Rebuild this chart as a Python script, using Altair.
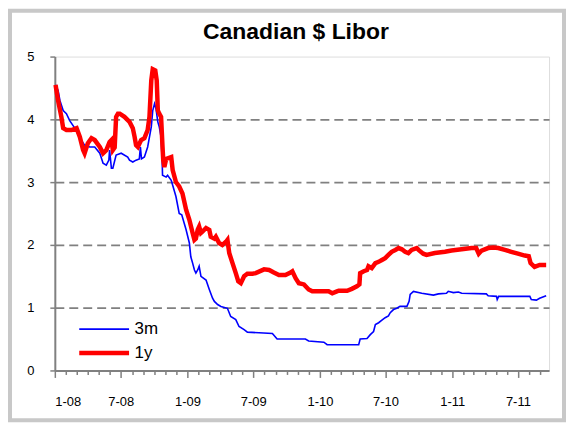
import altair as alt
import pandas as pd

series_names = ["3m", "1y"]
series_colors = ["#0000FF", "#FF0000"]
series_widths = [1.6, 4.5]

m3_dates = [
    "2008-01-03", "2008-01-10", "2008-01-15", "2008-01-24", "2008-02-02", "2008-02-11",
    "2008-02-25", "2008-03-14", "2008-03-23", "2008-04-06", "2008-04-20", "2008-05-04",
    "2008-05-13", "2008-05-22", "2008-05-29", "2008-05-31", "2008-06-05", "2008-06-09",
    "2008-06-18", "2008-07-02", "2008-07-20", "2008-07-25", "2008-08-03", "2008-08-12",
    "2008-08-21", "2008-08-24", "2008-08-27", "2008-09-04", "2008-09-13", "2008-09-23",
    "2008-09-27", "2008-10-02", "2008-10-06", "2008-10-11", "2008-10-15", "2008-10-20",
    "2008-10-23", "2008-10-24", "2008-11-03", "2008-11-07", "2008-11-17", "2008-11-21",
    "2008-11-30", "2008-12-09", "2008-12-16", "2008-12-23", "2008-12-28", "2009-01-06",
    "2009-01-10", "2009-01-15", "2009-01-20", "2009-01-24", "2009-01-29", "2009-02-02",
    "2009-02-07", "2009-02-21", "2009-03-02", "2009-03-11", "2009-03-16", "2009-03-25",
    "2009-04-03", "2009-04-21", "2009-04-30", "2009-05-14", "2009-05-23", "2009-06-06",
    "2009-06-15", "2009-07-17", "2009-08-23", "2009-09-05", "2009-11-22", "2009-12-01",
    "2010-01-12", "2010-01-21", "2010-04-18", "2010-04-22", "2010-05-11", "2010-05-20",
    "2010-05-29", "2010-06-03", "2010-06-12", "2010-06-21", "2010-06-30", "2010-07-09",
    "2010-07-14", "2010-07-23", "2010-08-01", "2010-08-10", "2010-08-29", "2010-09-04",
    "2010-09-07", "2010-09-16", "2010-10-09", "2010-11-10", "2010-11-24", "2010-12-16",
    "2010-12-21", "2011-01-04", "2011-01-18", "2011-01-27", "2011-04-05", "2011-04-10",
    "2011-05-03", "2011-05-05", "2011-05-09", "2011-08-03", "2011-08-07", "2011-08-21",
    "2011-08-30", "2011-09-17",
]
m3_values = [
    4.55, 4.46, 4.30, 4.14, 4.09, 3.98,
    3.86, 3.67, 3.59, 3.56, 3.56, 3.46,
    3.30, 3.27, 3.35, 3.51, 3.22, 3.22,
    3.43, 3.46, 3.40, 3.35, 3.32, 3.35,
    3.37, 3.56, 3.37, 3.40, 3.56, 3.88,
    4.14, 4.25, 4.17, 3.96, 3.88, 3.72,
    3.35, 3.11, 3.08, 3.11, 3.03, 2.95,
    2.77, 2.50, 2.48, 2.34, 2.24, 2.03,
    1.81, 1.71, 1.60, 1.55, 1.60, 1.66,
    1.50, 1.44, 1.29, 1.15, 1.10, 1.05,
    1.02, 0.99, 0.86, 0.81, 0.70, 0.65,
    0.61, 0.60, 0.59, 0.50, 0.50, 0.47,
    0.45, 0.41, 0.41, 0.50, 0.51, 0.57,
    0.62, 0.73, 0.76, 0.80, 0.84, 0.87,
    0.92, 0.97, 0.99, 1.02, 1.02, 1.10,
    1.21, 1.26, 1.23, 1.20, 1.22, 1.23,
    1.26, 1.24, 1.25, 1.23, 1.22, 1.19,
    1.18, 1.13, 1.18, 1.18, 1.13, 1.12,
    1.15, 1.19,
]

y1_dates = [
    "2008-01-03", "2008-01-10", "2008-01-19", "2008-01-24", "2008-02-02", "2008-02-16",
    "2008-03-01", "2008-03-10", "2008-03-19", "2008-03-23", "2008-04-01", "2008-04-11",
    "2008-04-20", "2008-05-04", "2008-05-13", "2008-05-22", "2008-05-31", "2008-06-05",
    "2008-06-09", "2008-06-14", "2008-06-18", "2008-06-23", "2008-06-28", "2008-07-11",
    "2008-07-25", "2008-08-03", "2008-08-08", "2008-08-12", "2008-08-17", "2008-08-26",
    "2008-09-04", "2008-09-13", "2008-09-18", "2008-09-23", "2008-09-27", "2008-10-04",
    "2008-10-08", "2008-10-11", "2008-10-15", "2008-10-20", "2008-10-24", "2008-10-26",
    "2008-10-29", "2008-11-03", "2008-11-17", "2008-11-21", "2008-11-30", "2008-12-09",
    "2008-12-18", "2008-12-28", "2009-01-06", "2009-01-15", "2009-01-20", "2009-01-24",
    "2009-01-29", "2009-02-02", "2009-02-07", "2009-02-11", "2009-02-21", "2009-03-02",
    "2009-03-06", "2009-03-16", "2009-03-20", "2009-03-29", "2009-04-07", "2009-04-17",
    "2009-04-21", "2009-04-26", "2009-05-05", "2009-05-14", "2009-05-21", "2009-05-28",
    "2009-06-06", "2009-06-15", "2009-06-29", "2009-07-08", "2009-07-31", "2009-08-14",
    "2009-08-27", "2009-09-10", "2009-09-28", "2009-10-12", "2009-10-17", "2009-10-26",
    "2009-11-04", "2009-11-18", "2009-12-01", "2009-12-11", "2010-01-25", "2010-02-04",
    "2010-02-17", "2010-02-22", "2010-03-17", "2010-03-30", "2010-04-13", "2010-04-20",
    "2010-04-22", "2010-05-02", "2010-05-11", "2010-05-15", "2010-05-24", "2010-06-03",
    "2010-06-12", "2010-06-21", "2010-06-30", "2010-07-09", "2010-07-18", "2010-07-28",
    "2010-08-06", "2010-08-15", "2010-08-24", "2010-09-02", "2010-09-11", "2010-09-25",
    "2010-09-30", "2010-10-13", "2010-10-22", "2010-11-14", "2010-12-12", "2010-12-30",
    "2011-01-27", "2011-02-23", "2011-03-08", "2011-03-15", "2011-03-23", "2011-04-10",
    "2011-04-24", "2011-05-08", "2011-05-26", "2011-06-13", "2011-07-01", "2011-07-20",
    "2011-07-31", "2011-08-05", "2011-08-16", "2011-08-30", "2011-09-17",
]
y1_values = [
    4.55, 4.30, 4.04, 3.86, 3.83, 3.83,
    3.86, 3.72, 3.51, 3.46, 3.62, 3.70,
    3.67, 3.56, 3.46, 3.51, 3.64, 3.67,
    3.51, 3.55, 4.04, 4.09, 4.09, 4.04,
    3.96, 3.86, 3.72, 3.59, 3.56, 3.67,
    3.70, 3.83, 4.04, 4.62, 4.80, 4.78,
    4.62, 4.14, 4.09, 4.04, 3.56, 3.35,
    3.24, 3.37, 3.40, 3.19, 3.00, 2.93,
    2.82, 2.56, 2.40, 2.19, 2.08, 2.10,
    2.24, 2.29, 2.19, 2.21, 2.27, 2.24,
    2.13, 2.10, 2.13, 2.03, 2.00, 2.05,
    2.08, 1.87, 1.71, 1.55, 1.42, 1.39,
    1.50, 1.54, 1.54, 1.55, 1.61, 1.60,
    1.56, 1.52, 1.52, 1.56, 1.58, 1.47,
    1.39, 1.37, 1.29, 1.26, 1.26, 1.23,
    1.26, 1.27, 1.27, 1.30, 1.34, 1.37,
    1.55, 1.58, 1.60, 1.66, 1.63, 1.71,
    1.73, 1.76, 1.79, 1.84, 1.89, 1.92,
    1.95, 1.93, 1.89, 1.87, 1.92, 1.95,
    1.92, 1.86, 1.84, 1.87, 1.89, 1.91,
    1.93, 1.95, 1.95, 1.86, 1.91, 1.95,
    1.96, 1.95, 1.92, 1.89, 1.86, 1.83,
    1.82, 1.71, 1.65, 1.68, 1.68,
]

y_ticks = [0, 1, 2, 3, 4, 5]
x_tick_years = [2008, 2009, 2010, 2011]
x_tick_months = list(range(1, 13))
x_last_tick = (2011, 9)

FONT = "Liberation Sans"
GRID_GRAY = "#808080"

df = pd.concat([
    pd.DataFrame({"date": m3_dates, "value": m3_values, "series": series_names[0]}),
    pd.DataFrame({"date": y1_dates, "value": y1_values, "series": series_names[1]}),
], ignore_index=True)

x_values = [
    alt.DateTime(year=y, month=m, date=1, utc=True)
    for y in x_tick_years for m in x_tick_months
    if (y, m) <= x_last_tick
]

W, H = 496, 315

legend_opts = dict(
    title=None,
    orient="none",
    legendX=41,
    legendY=265,
    symbolType="M-5,0H5",
    symbolSize=100,
    labelFont=FONT,
    labelFontSize=17,
    labelColor="#000000",
    labelOffset=22,
    padding=0,
    rowPadding=6,
)

lines = alt.Chart(df).mark_line(clip=False).encode(
    x=alt.X(
        "date:T",
        title=None,
        scale=alt.Scale(
            type="utc",
            domain=[alt.DateTime(year=2008, month=1, date=1, utc=True),
                    alt.DateTime(year=2011, month=9, date=25, utc=True)],
        ),
        axis=alt.Axis(
            values=x_values,
            labelExpr="utcmonth(datum.value) % 6 == 0 ? utcFormat(datum.value, '%-m-%y') : ''",
            tickSize={"condition": {"test": "utcmonth(datum.value) % 6 == 0", "value": 7}, "value": 4},
            tickColor=GRID_GRAY,
            tickWidth=1.5,
            domainColor=GRID_GRAY,
            domainWidth=2,
            labelFont=FONT,
            labelFontSize=13,
            labelColor="#000000",
            labelPadding=18,
            labelOverlap=False,
            grid=False,
        ),
    ),
    y=alt.Y(
        "value:Q",
        title=None,
        scale=alt.Scale(domain=[0, 5], nice=False),
        axis=alt.Axis(
            values=y_ticks,
            format="d",
            tickSize=5,
            tickColor=GRID_GRAY,
            tickWidth=1.5,
            domainColor=GRID_GRAY,
            domainWidth=2,
            labelFont=FONT,
            labelFontSize=13,
            labelColor="#000000",
            labelPadding=16,
            grid=True,
            gridColor=GRID_GRAY,
            gridWidth=1.6,
            gridDash=[9, 5],
            gridOpacity={"condition": {"test": "datum.value == 0 || datum.value == 5", "value": 0}, "value": 1},
        ),
    ),
    color=alt.Color(
        "series:N",
        scale=alt.Scale(domain=series_names, range=series_colors),
        legend=alt.Legend(**legend_opts),
    ),
    strokeWidth=alt.StrokeWidth(
        "series:N",
        scale=alt.Scale(domain=series_names, range=series_widths),
        legend=alt.Legend(**legend_opts),
    ),
)

frame = alt.Chart(pd.DataFrame({"frame": [0]})).mark_rect(
    filled=False, stroke="#c8c8c8", strokeWidth=4, clip=False
).encode(
    x=alt.value(-45), x2=alt.value(W + 15),
    y=alt.value(-46), y2=alt.value(H + 50),
)

chart = alt.layer(frame, lines).properties(
    width=W,
    height=H,
    padding=0,
    title=alt.TitleParams(
        "Canadian $ Libor",
        font=FONT,
        fontSize=23,
        fontWeight="bold",
        color="#000000",
        anchor="middle",
        frame="group",
        baseline="alphabetic",
        offset=-53,
        dx=-6,
    ),
).configure_view(
    stroke=GRID_GRAY, strokeWidth=2
).configure(background="#ffffff")

chart.save("out.html", embed_options={"renderer": "svg", "actions": False})
